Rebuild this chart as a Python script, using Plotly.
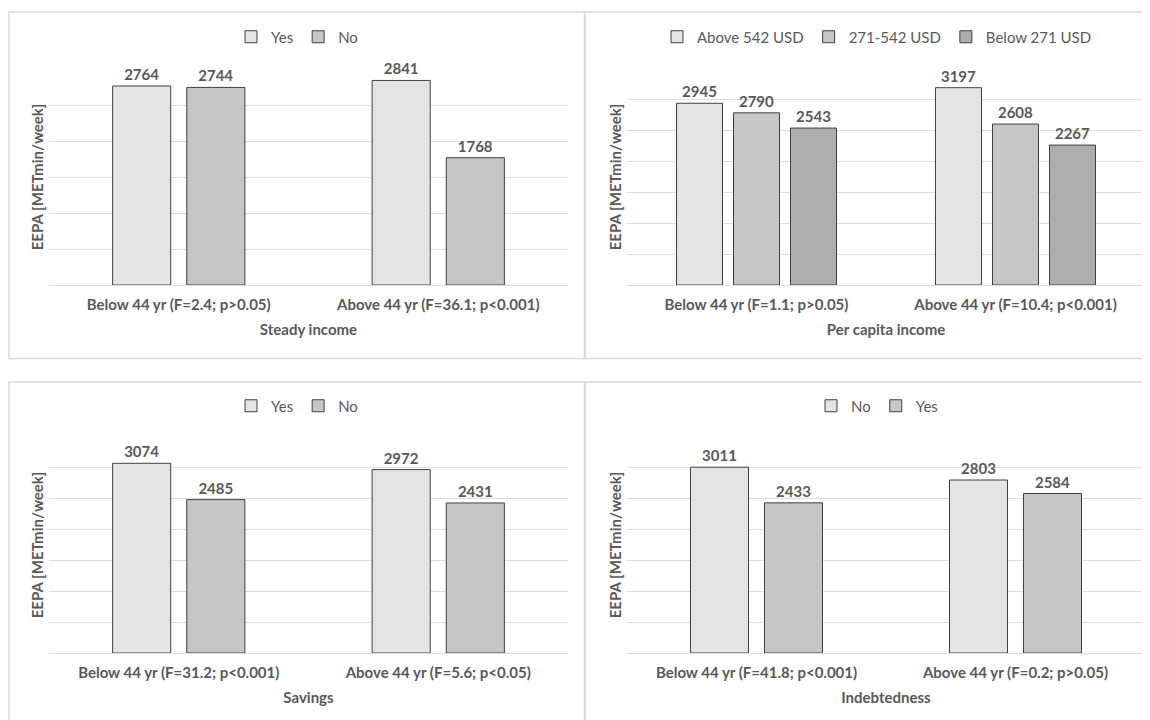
import plotly.graph_objects as go

# page body has an 8px margin; the figure is sized/shifted to match the reference frame
OFF = 8
W, H = 1150 - OFF, 720 - OFF

# ---------------- data ----------------
steady_cats = ["Below 44 yr (F=2.4; p>0.05)", "Above 44 yr (F=36.1; p<0.001)"]
steady_yes = [2764, 2841]
steady_no = [2744, 1768]

percap_cats = ["Below 44 yr (F=1.1; p>0.05)", "Above 44 yr (F=10.4; p<0.001)"]
percap_above542 = [2945, 3197]
percap_271_542 = [2790, 2608]
percap_below271 = [2543, 2267]

savings_cats = ["Below 44 yr (F=31.2; p<0.001)", "Above 44 yr (F=5.6; p<0.05)"]
savings_yes = [3074, 2972]
savings_no = [2485, 2431]

indebt_cats = ["Below 44 yr (F=41.8; p<0.001)", "Above 44 yr (F=0.2; p>0.05)"]
indebt_no = [3011, 2803]
indebt_yes = [2433, 2584]

y_title = "EEPA [METmin/week]"

# ---------------- style ----------------
FONT = "Lato"
TXT = "#595959"
C1, C2, C3 = "#e4e4e4", "#c6c6c6", "#adadad"
EDGE = "#404040"
GRID = "#dedede"

def px_x(p):
    return (p - OFF) / W

def px_y(p):
    return 1 - (p - OFF) / H

panels = {
    "TL": dict(x=(49, 568), y=(69, 285)),
    "TR": dict(x=(627, 1145), y=(69, 285)),
    "BL": dict(x=(49, 568), y=(437, 653)),
    "BR": dict(x=(627, 1145), y=(437, 653)),
}

fig = go.Figure()

def add_group(ax_idx, cats, series, names, colors, legend, bar_w, step):
    n = len(series)
    for i, (vals, nm, col) in enumerate(zip(series, names, colors)):
        off = (i - (n - 1) / 2) * step - bar_w / 2
        fig.add_trace(go.Bar(
            x=cats, y=vals, name=nm,
            marker=dict(color=col, line=dict(color=EDGE, width=1)),
            width=bar_w, offset=off,
            text=[str(v) for v in vals],
            textposition="outside",
            textfont=dict(family=FONT, size=15, color=TXT, weight="bold"),
            cliponaxis=False,
            xaxis="x" if ax_idx == 1 else f"x{ax_idx}",
            yaxis="y" if ax_idx == 1 else f"y{ax_idx}",
            legend=legend,
        ))

add_group(1, steady_cats, [steady_yes, steady_no], ["Yes", "No"], [C1, C2], "legend", 58 / 259, 74 / 259)
add_group(2, percap_cats, [percap_above542, percap_271_542, percap_below271],
          ["Above 542 USD", "271-542 USD", "Below 271 USD"], [C1, C2, C3], "legend2", 46 / 259, 57 / 259)
add_group(3, savings_cats, [savings_yes, savings_no], ["Yes", "No"], [C1, C2], "legend3", 58 / 259, 74 / 259)
add_group(4, indebt_cats, [indebt_no, indebt_yes], ["No", "Yes"], [C1, C2], "legend4", 58 / 259, 74 / 259)

xtitles = ["Steady income", "Per capita income", "Savings", "Indebtedness"]
yranges = [[0, 3000], [0, 3500], [0, 3500], [0, 3500]]
keys = ["TL", "TR", "BL", "BR"]

layout = dict(
    width=W, height=H, margin=dict(l=0, r=0, t=0, b=0),
    paper_bgcolor="white", plot_bgcolor="white",
    barmode="group", showlegend=True,
    font=dict(family=FONT, color=TXT),
)

for i, k in enumerate(keys, start=1):
    p = panels[k]
    xs = "xaxis" if i == 1 else f"xaxis{i}"
    ys = "yaxis" if i == 1 else f"yaxis{i}"
    layout[xs] = dict(
        domain=[px_x(p["x"][0]), px_x(p["x"][1])],
        anchor="y" if i == 1 else f"y{i}",
        showline=True, linecolor=GRID, linewidth=1,
        ticks="", showgrid=False, fixedrange=True,
        ticklabelstandoff=6,
        tickfont=dict(family=FONT, size=15, color=TXT, weight="bold"),
        title=dict(text=xtitles[i - 1], standoff=12,
                   font=dict(family=FONT, size=15, color=TXT, weight="bold")),
    )
    layout[ys] = dict(
        domain=[px_y(p["y"][1]), px_y(p["y"][0])],
        anchor="x" if i == 1 else f"x{i}",
        range=yranges[i - 1], dtick=500,
        showgrid=True, gridcolor=GRID, gridwidth=1,
        showticklabels=False, ticks="", zeroline=False, showline=False,
        title=dict(text=y_title, standoff=0,
                   font=dict(family=FONT, size=15, color=TXT, weight="bold")),
    )

legend_pos = {"legend": (297, 37), "legend2": (877, 37), "legend3": (297, 406), "legend4": (877, 406)}
for lg, (cx, cy) in legend_pos.items():
    layout[lg] = dict(
        orientation="h", x=px_x(cx), y=px_y(cy), xanchor="center", yanchor="middle",
        font=dict(family=FONT, size=15, color=TXT), bgcolor="rgba(0,0,0,0)",
        itemwidth=30, traceorder="normal",
    )

shapes = []
for (x0, x1, y0, y1) in [(9, 584.5, 12, 358.5), (585, 1160, 12, 358.5),
                         (9, 584.5, 382, 730), (585, 1160, 382, 730)]:
    shapes.append(dict(type="rect", xref="paper", yref="paper",
                       x0=px_x(x0), x1=px_x(x1), y0=px_y(y1), y1=px_y(y0),
                       line=dict(color="#d9d9d9", width=1.5), fillcolor="rgba(0,0,0,0)",
                       layer="below"))
layout["shapes"] = shapes

fig.update_layout(**layout)
fig.write_html("out.html")
